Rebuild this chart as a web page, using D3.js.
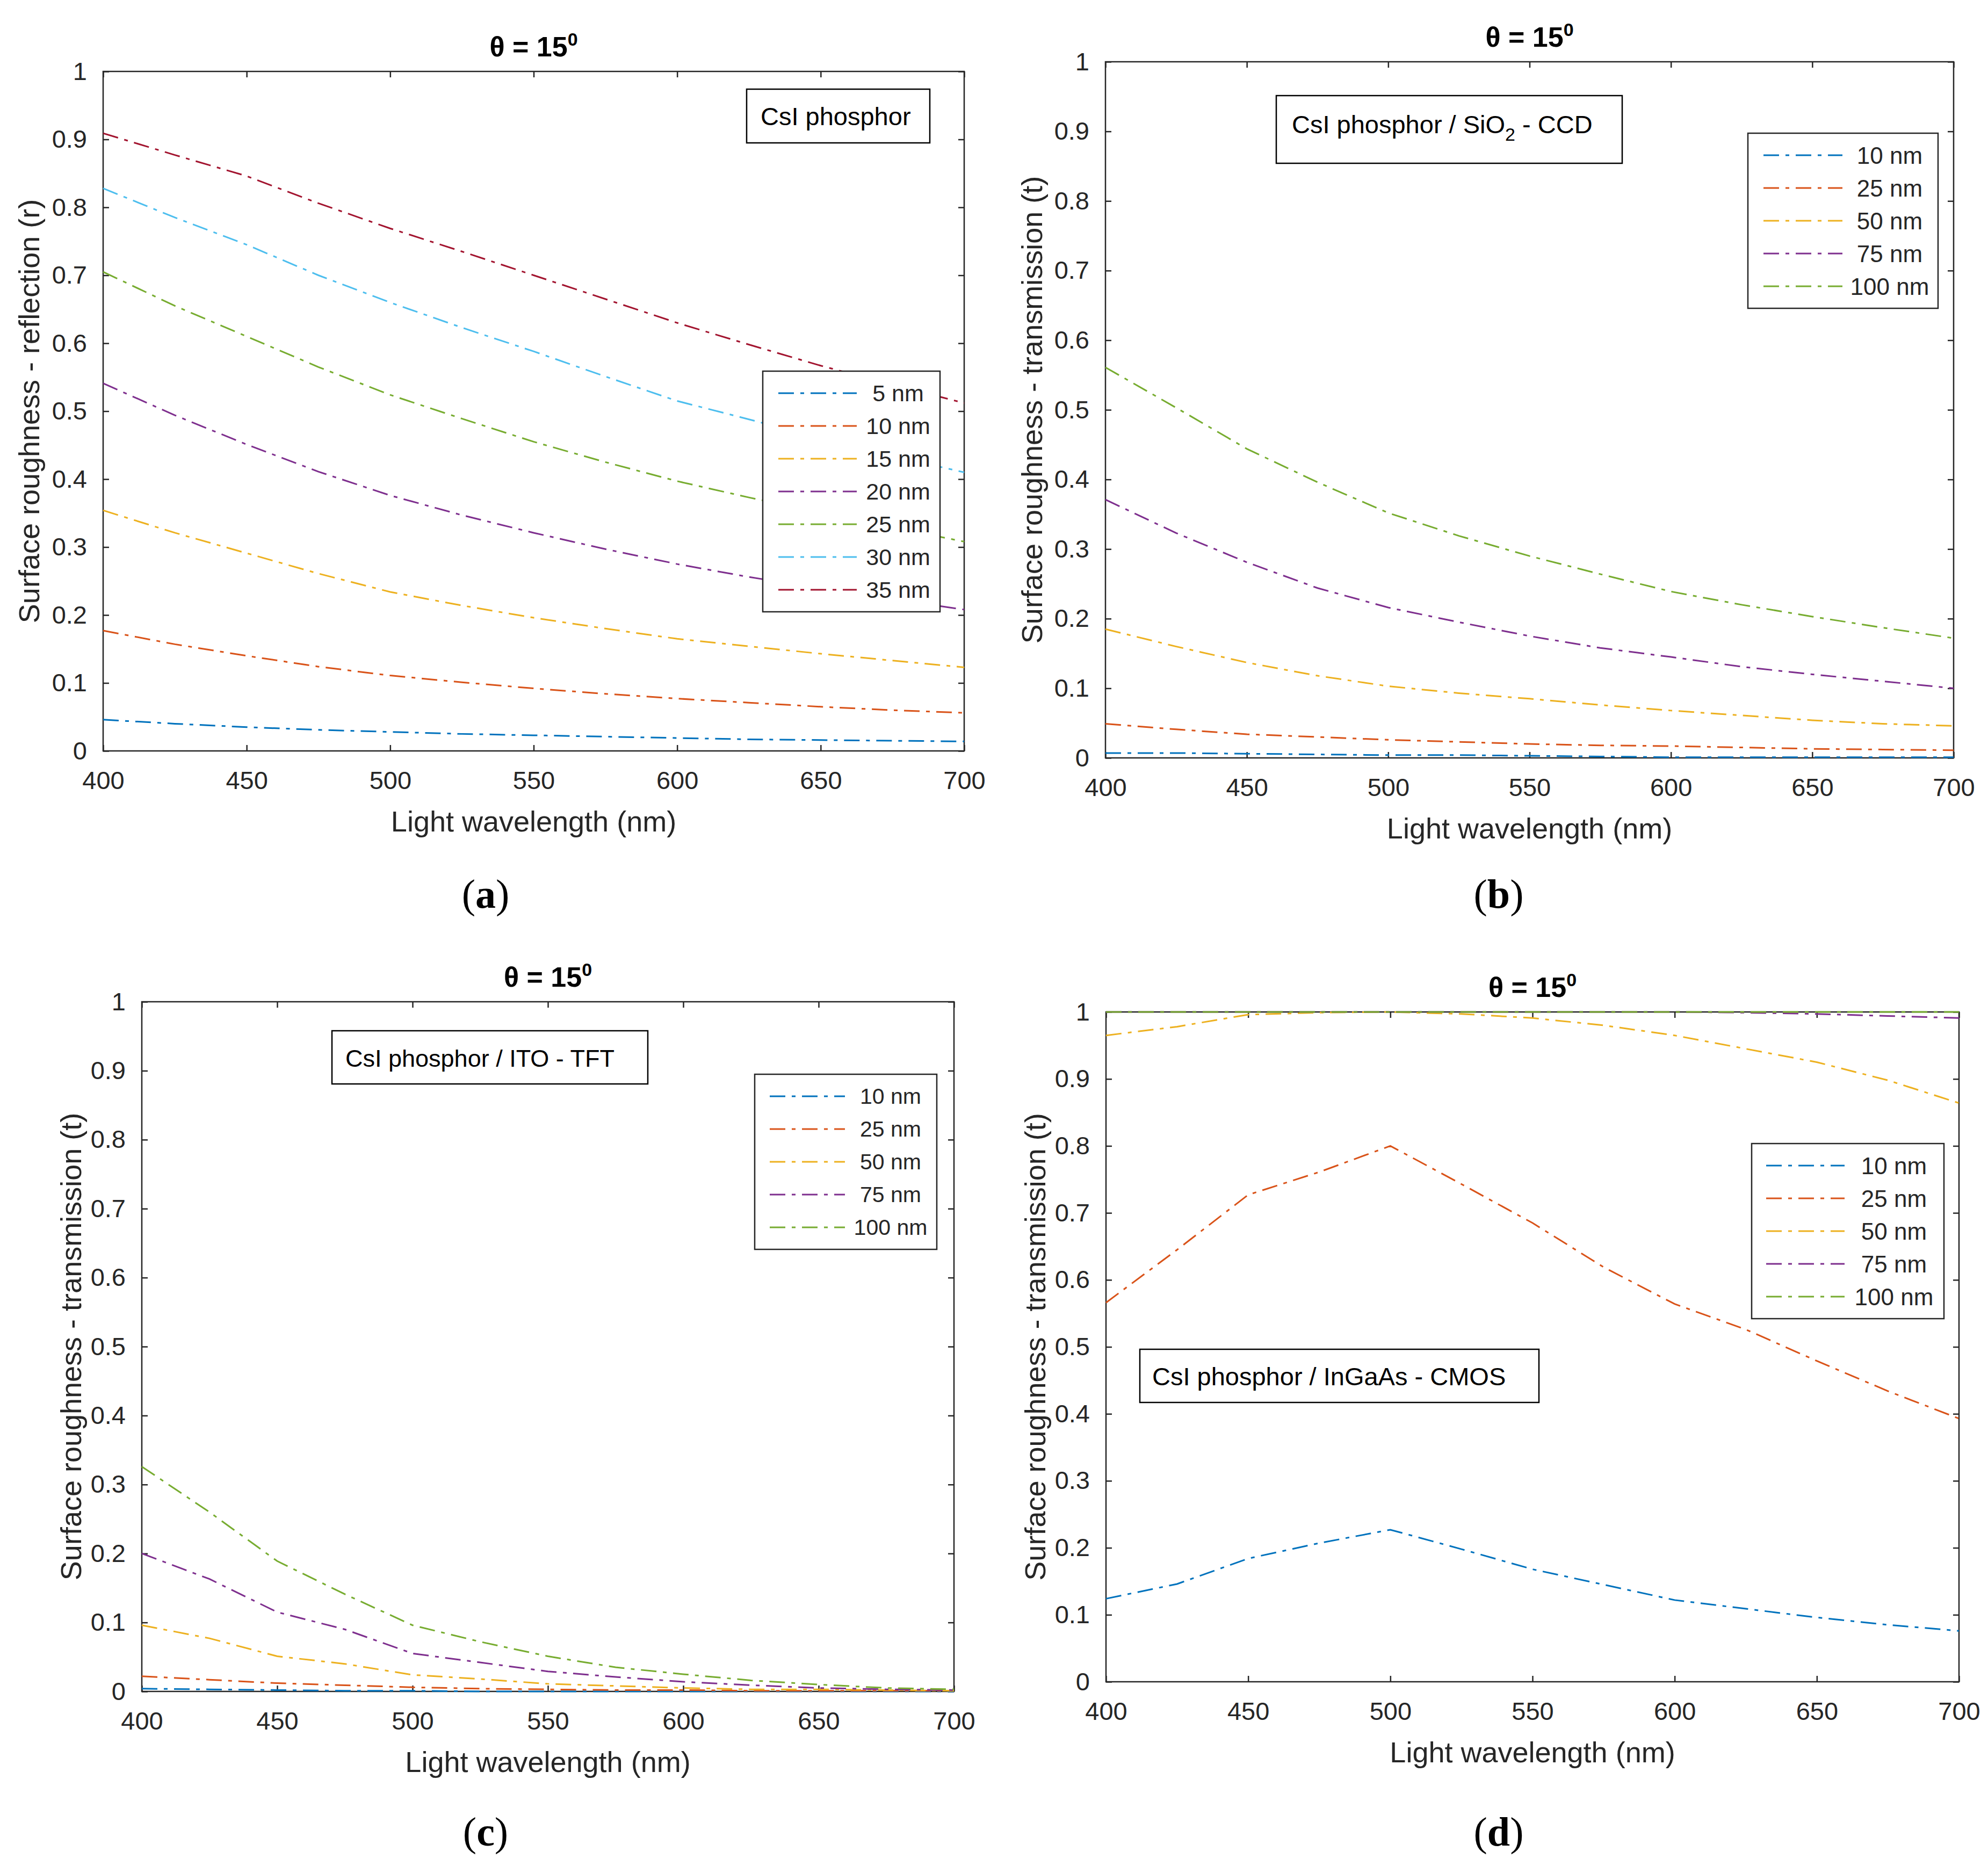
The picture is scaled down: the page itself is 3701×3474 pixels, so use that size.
<!DOCTYPE html>
<html>
<head>
<meta charset="utf-8">
<script src="https://cdn.jsdelivr.net/npm/d3@7"></script>
<style>
body { margin: 0; background: #fff; }
svg text { font-family: "Liberation Sans", Arial, sans-serif; }
</style>
</head>
<body>
<svg id="chart" width="3701" height="3474"></svg>
<script>
// Shared x samples (nm) and tick values
var wavelengths = [400, 425, 450, 475, 500, 525, 550, 575, 600, 625, 650, 675, 700];
var xTicks = [400, 450, 500, 550, 600, 650, 700];
var yTicks = [0, 0.1, 0.2, 0.3, 0.4, 0.5, 0.6, 0.7, 0.8, 0.9, 1];
var yTickLabels = ["0", "0.1", "0.2", "0.3", "0.4", "0.5", "0.6", "0.7", "0.8", "0.9", "1"];

// MATLAB default line colours
var colors = ["#0072BD", "#D95319", "#EDB120", "#7E2F8E", "#77AC30", "#4DBEEE", "#A2142F"];

// (a) CsI phosphor - reflection
var labelsA = ["5 nm", "10 nm", "15 nm", "20 nm", "25 nm", "30 nm", "35 nm"];
var reflA5 = [0.046, 0.040, 0.035, 0.031, 0.028, 0.025, 0.023, 0.021, 0.019, 0.017, 0.016, 0.015, 0.014];
var reflA10 = [0.177, 0.157, 0.140, 0.124, 0.111, 0.101, 0.092, 0.084, 0.077, 0.071, 0.065, 0.060, 0.056];
var reflA15 = [0.354, 0.321, 0.291, 0.261, 0.234, 0.214, 0.196, 0.180, 0.165, 0.154, 0.143, 0.133, 0.123];
var reflA20 = [0.541, 0.494, 0.451, 0.411, 0.376, 0.347, 0.321, 0.297, 0.275, 0.256, 0.239, 0.223, 0.208];
var reflA25 = [0.705, 0.655, 0.610, 0.565, 0.524, 0.489, 0.455, 0.425, 0.397, 0.373, 0.351, 0.329, 0.308];
var reflA30 = [0.828, 0.785, 0.745, 0.700, 0.660, 0.623, 0.588, 0.551, 0.515, 0.488, 0.460, 0.434, 0.410];
var reflA35 = [0.909, 0.877, 0.846, 0.806, 0.769, 0.735, 0.700, 0.665, 0.630, 0.598, 0.567, 0.539, 0.512];

// (b), (c), (d) transmission, same roughness set
var labelsT = ["10 nm", "25 nm", "50 nm", "75 nm", "100 nm"];

// (b) CsI / SiO2 - CCD
var transB10 = [0.007, 0.007, 0.006, 0.005, 0.004, 0.004, 0.003, 0.002, 0.001, 0.001, 0.001, 0.001, 0.001];
var transB25 = [0.049, 0.041, 0.034, 0.030, 0.026, 0.023, 0.020, 0.018, 0.017, 0.015, 0.013, 0.012, 0.011];
var transB50 = [0.185, 0.160, 0.137, 0.118, 0.103, 0.093, 0.085, 0.076, 0.068, 0.061, 0.054, 0.049, 0.046];
var transB75 = [0.371, 0.323, 0.281, 0.244, 0.216, 0.195, 0.175, 0.158, 0.145, 0.131, 0.120, 0.110, 0.100];
var transB100 = [0.561, 0.503, 0.444, 0.396, 0.352, 0.319, 0.290, 0.264, 0.239, 0.220, 0.203, 0.187, 0.172];

// (c) CsI / ITO - TFT
var transC10 = [0.004, 0.003, 0.002, 0.001, 0.001, 0, 0, 0, 0, 0, 0, 0, 0];
var transC25 = [0.022, 0.017, 0.012, 0.009, 0.006, 0.004, 0.003, 0.002, 0.002, 0.001, 0.001, 0.001, 0.001];
var transC50 = [0.096, 0.077, 0.051, 0.040, 0.024, 0.018, 0.011, 0.008, 0.005, 0.003, 0.003, 0.002, 0.001];
var transC75 = [0.200, 0.163, 0.115, 0.090, 0.055, 0.042, 0.029, 0.021, 0.014, 0.009, 0.005, 0.003, 0.002];
var transC100 = [0.326, 0.260, 0.189, 0.141, 0.096, 0.072, 0.051, 0.035, 0.025, 0.016, 0.010, 0.005, 0.003];

// (d) CsI / InGaAs - CMOS
var transD10 = [0.124, 0.146, 0.184, 0.207, 0.227, 0.198, 0.168, 0.145, 0.122, 0.109, 0.096, 0.085, 0.076];
var transD25 = [0.566, 0.645, 0.727, 0.761, 0.800, 0.743, 0.685, 0.619, 0.564, 0.526, 0.479, 0.434, 0.393];
var transD50 = [0.965, 0.978, 0.996, 0.999, 1.000, 0.997, 0.991, 0.980, 0.965, 0.945, 0.925, 0.898, 0.864];
var transD75 = [1.000, 1.000, 1.000, 1.000, 1.000, 1.000, 1.000, 1.000, 1.000, 0.999, 0.997, 0.994, 0.991];
var transD100 = [1.000, 1.000, 1.000, 1.000, 1.000, 1.000, 1.000, 1.000, 1.000, 1.000, 1.000, 1.000, 1.000];

var svg = d3.select("#chart");
var AXIS = "#262626";
var DASH = "29,12,7,12";

// Panel layout
var panels = [
  {
    l: 192, r: 1795, t: 133, b: 1398,
    ylabel: "Surface roughness - reflection (r)", ylabelX: 54,
    series: [reflA5, reflA10, reflA15, reflA20, reflA25, reflA30, reflA35],
    labels: labelsA,
    legend: { l: 1420, t: 691, w: 330, fs: 43, x1: 29, x2: 175, tc: 252 },
    box: { l: 1390, t: 166, w: 341, h: 100, tx: 1416, fs: 47, parts: [["CsI phosphor"]] },
    tag: "(a)", tagX: 904, tagY: 1690
  },
  {
    l: 2058, r: 3637, t: 115, b: 1411,
    ylabel: "Surface roughness - transmission (t)", ylabelX: 1921,
    series: [transB10, transB25, transB50, transB75, transB100],
    labels: labelsT,
    legend: { l: 3254, t: 248, w: 354, fs: 44, x1: 29, x2: 176, tc: 264 },
    box: { l: 2376, t: 178, w: 644, h: 126, tx: 2405, fs: 47, parts: [["CsI phosphor / SiO"], ["2", "sub"], [" - CCD"]] },
    tag: "(b)", tagX: 2790, tagY: 1690
  },
  {
    l: 264, r: 1776, t: 1865, b: 3149,
    ylabel: "Surface roughness - transmission (t)", ylabelX: 132,
    series: [transC10, transC25, transC50, transC75, transC100],
    labels: labelsT,
    legend: { l: 1405, t: 2000, w: 339, fs: 41, x1: 28, x2: 168, tc: 253 },
    box: { l: 618, t: 1919, w: 588, h: 99, tx: 643, fs: 45, parts: [["CsI phosphor / ITO - TFT"]] },
    tag: "(c)", tagX: 904, tagY: 3436
  },
  {
    l: 2059, r: 3647, t: 1884, b: 3131,
    ylabel: "Surface roughness - transmission (t)", ylabelX: 1927,
    series: [transD10, transD25, transD50, transD75, transD100],
    labels: labelsT,
    legend: { l: 3261, t: 2129, w: 358, fs: 44, x1: 27, x2: 173, tc: 265 },
    box: { l: 2122, t: 2512, w: 743, h: 99, tx: 2145, fs: 47, parts: [["CsI phosphor / InGaAs - CMOS"]] },
    tag: "(d)", tagX: 2790, tagY: 3436
  }
];

panels.forEach(drawPanel);

function drawPanel(p) {
  var g = svg.append("g");

  var x = d3.scaleLinear().domain([400, 700]).range([p.l, p.r]);
  var y = d3.scaleLinear().domain([0, 1]).range([p.b, p.t]);

  // Plot background
  g.append("rect")
    .attr("x", p.l).attr("y", p.t)
    .attr("width", p.r - p.l).attr("height", p.b - p.t)
    .style("fill", "#fff")
    .style("stroke", AXIS)
    .style("stroke-width", 2.5);

  // Ticks, pointing inward on all four sides
  var bottom = g.append("g")
    .attr("transform", translate(0, p.b))
    .call(d3.axisBottom(x).tickValues(xTicks).tickSizeInner(-11).tickSizeOuter(0).tickPadding(38).tickFormat(d3.format("d")));
  var left = g.append("g")
    .attr("transform", translate(p.l, 0))
    .call(d3.axisLeft(y).tickValues(yTicks).tickSizeInner(-11).tickSizeOuter(0).tickPadding(30)
      .tickFormat(function(d, i) { return yTickLabels[i]; }));
  var top = g.append("g")
    .attr("transform", translate(0, p.t))
    .call(d3.axisTop(x).tickValues(xTicks).tickSizeInner(-11).tickSizeOuter(0).tickFormat(""));
  var right = g.append("g")
    .attr("transform", translate(p.r, 0))
    .call(d3.axisRight(y).tickValues(yTicks).tickSizeInner(-11).tickSizeOuter(0).tickFormat(""));

  [bottom, left, top, right].forEach(function(a) {
    a.select(".domain").remove();
    a.selectAll("line").style("stroke", AXIS).style("stroke-width", 2.5);
    a.selectAll("text")
      .style("font-family", "'Liberation Sans', Arial, sans-serif")
      .style("font-size", "47px")
      .style("fill", AXIS);
  });

  // Data lines
  var line = d3.line()
    .x(function(d, i) { return x(wavelengths[i]); })
    .y(function(d) { return y(d); });

  p.series.forEach(function(s, i) {
    g.append("path")
      .attr("d", line(s))
      .style("fill", "none")
      .style("stroke", colors[i])
      .style("stroke-width", 3)
      .style("stroke-dasharray", DASH);
  });

  // Title
  var title = g.append("text")
    .attr("x", (p.l + p.r) / 2)
    .attr("y", p.t - 28)
    .attr("text-anchor", "middle")
    .style("font-size", "52px")
    .style("font-weight", "bold")
    .style("fill", "#000");
  title.append("tspan").text("\u03b8 = 15");
  title.append("tspan").attr("dy", -20).style("font-size", "34px").text("0");

  // Axis labels
  g.append("text")
    .attr("x", (p.l + p.r) / 2)
    .attr("y", p.b + 131)
    .attr("text-anchor", "middle")
    .attr("dominant-baseline", "central")
    .style("font-size", "54px")
    .style("fill", AXIS)
    .text("Light wavelength (nm)");

  g.append("text")
    .attr("transform", translate(p.ylabelX, (p.t + p.b) / 2) + " rotate(-90)")
    .attr("text-anchor", "middle")
    .attr("dominant-baseline", "central")
    .style("font-size", "54px")
    .style("fill", AXIS)
    .text(p.ylabel);

  // Legend
  var lg = p.legend, rowH = 61, pad = 41;
  var lh = pad * 2 + (p.labels.length - 1) * rowH;
  var leg = g.append("g").attr("transform", translate(lg.l, lg.t));
  leg.append("rect")
    .attr("width", lg.w).attr("height", lh)
    .style("fill", "#fff")
    .style("stroke", AXIS)
    .style("stroke-width", 2.5);
  p.labels.forEach(function(lab, i) {
    var ry = pad + i * rowH;
    leg.append("line")
      .attr("x1", lg.x1).attr("x2", lg.x2)
      .attr("y1", ry).attr("y2", ry)
      .style("stroke", colors[i])
      .style("stroke-width", 3)
      .style("stroke-dasharray", DASH);
    leg.append("text")
      .attr("x", lg.tc).attr("y", ry)
      .attr("text-anchor", "middle")
      .attr("dominant-baseline", "central")
      .style("font-size", lg.fs + "px")
      .style("fill", AXIS)
      .text(lab);
  });

  // Annotation box
  var bx = p.box;
  g.append("rect")
    .attr("x", bx.l).attr("y", bx.t)
    .attr("width", bx.w).attr("height", bx.h)
    .style("fill", "#fff")
    .style("stroke", "#000")
    .style("stroke-width", 2.5);
  var bt = g.append("text")
    .attr("x", bx.tx)
    .attr("y", bx.t + (bx.parts.length > 1 ? 53 : bx.h / 2) + 17)
    .style("font-size", bx.fs + "px")
    .style("fill", "#000");
  bx.parts.forEach(function(part) {
    var ts = bt.append("tspan").text(part[0]);
    if (part[1] === "sub") {
      ts.attr("dy", 14).style("font-size", "34px");
    } else if (bt.selectAll("tspan").size() > 1) {
      ts.attr("dy", -14);
    }
  });

  // Panel tag
  var tg = svg.append("text")
    .attr("x", p.tagX).attr("y", p.tagY)
    .attr("text-anchor", "middle")
    .style("font-family", "'Liberation Serif', 'Times New Roman', serif")
    .style("font-size", "76px")
    .style("fill", "#000");
  tg.append("tspan").text("(");
  tg.append("tspan").style("font-weight", "bold").text(p.tag.charAt(1));
  tg.append("tspan").text(")");
}

function translate(x, y) {
  return "translate(" + x + "," + y + ")";
}
</script>
</body>
</html>
